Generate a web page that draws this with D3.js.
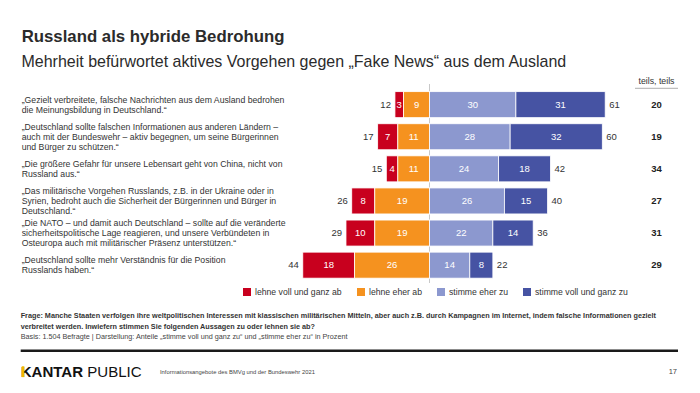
<!DOCTYPE html>
<html><head><meta charset="utf-8">
<script src="https://cdn.jsdelivr.net/npm/d3@7"></script>
<style>body{margin:0;background:#fff}svg{display:block;font-family:"Liberation Sans",Arial,sans-serif}</style>
</head><body>
<svg id="c" width="700" height="393"></svg>
<script>
const statements = [
  ["„Gezielt verbreitete, falsche Nachrichten aus dem Ausland bedrohen", "die Meinungsbildung in Deutschland.“"],
  ["„Deutschland sollte falschen Informationen aus anderen Ländern –", "auch mit der Bundeswehr – aktiv begegnen, um seine Bürgerinnen", "und Bürger zu schützen.“"],
  ["„Die größere Gefahr für unsere Lebensart geht von China, nicht von", "Russland aus.“"],
  ["„Das militärische Vorgehen Russlands, z.B. in der Ukraine oder in", "Syrien, bedroht auch die Sicherheit der Bürgerinnen und Bürger in", "Deutschland.“"],
  ["„Die NATO – und damit auch Deutschland – sollte auf die veränderte", "sicherheitspolitische Lage reagieren, und unsere Verbündeten in", "Osteuropa auch mit militärischer Präsenz unterstützen.“"],
  ["„Deutschland sollte mehr Verständnis für die Position", "Russlands haben.“"]
];
const seriesNames = ["lehne voll und ganz ab", "lehne eher ab", "stimme eher zu", "stimme voll und ganz zu"];
const lehneVoll  = [3, 7, 4, 8, 10, 18];
const lehneEher  = [9, 11, 11, 19, 19, 26];
const stimmeEher = [30, 28, 24, 26, 22, 14];
const stimmeVoll = [31, 32, 18, 15, 14, 8];
const totalAblehnung = [12, 17, 15, 26, 29, 44];
const totalZustimmung = [61, 60, 42, 40, 36, 22];
const teilsTeils = [20, 19, 34, 27, 31, 29];
const colors = ["#c8001e", "#f5921f", "#8c98cf", "#4653a3"];

const title = "Russland als hybride Bedrohung";
const subtitle = "Mehrheit befürwortet aktives Vorgehen gegen „Fake News“ aus dem Ausland";
const frage1 = "Frage: Manche Staaten verfolgen ihre weltpolitischen Interessen mit klassischen militärischen Mitteln, aber auch z.B. durch Kampagnen im Internet, indem falsche Informationen gezielt";
const frage2 = "verbreitet werden. Inwiefern stimmen Sie folgenden Aussagen zu oder lehnen sie ab?";
const basis = "Basis: 1.504 Befragte | Darstellung: Anteile „stimme voll und ganz zu“ und „stimme eher zu“ in Prozent";
const footerText = "Informationsangebote des BMVg und der Bundeswehr 2021";
const pageNo = "17";

const svg = d3.select("#c");
const txt = "#333";

function fit(sel, w) {
  const cur = parseFloat(sel.attr("font-size"));
  const m = sel.node().getComputedTextLength();
  sel.attr("font-size", (cur * w / m).toFixed(2));
  return sel;
}

// Titles
fit(svg.append("text").attr("x", 21.7).attr("y", 41.7).attr("font-size", 17).attr("font-weight", "bold").attr("fill", "#2b2b2b").text(title), 263);
fit(svg.append("text").attr("x", 21.5).attr("y", 66.7).attr("font-size", 15).attr("fill", "#2b2b2b").text(subtitle), 545);

// scales
const x = d3.scaleLinear().domain([-50, 65]).range([429.5 - 50 * 2.88, 429.5 + 65 * 2.88]);
const idx = d3.range(statements.length);
const y = d3.scaleBand().domain(idx).range([88.6, 281.2]).paddingInner(0.19).paddingOuter(0.095);

// center line
svg.append("line").attr("x1", x(0)).attr("x2", x(0)).attr("y1", 84).attr("y2", 283).attr("stroke", "#c8c8c8").attr("stroke-width", 1);

// stacked diverging segments
const rows = idx.map(i => {
  const segs = [];
  segs.push({s: 0, v: lehneVoll[i], x0: -(lehneVoll[i] + lehneEher[i]), x1: -lehneEher[i]});
  segs.push({s: 1, v: lehneEher[i], x0: -lehneEher[i], x1: 0});
  segs.push({s: 2, v: stimmeEher[i], x0: 0, x1: stimmeEher[i]});
  segs.push({s: 3, v: stimmeVoll[i], x0: stimmeEher[i], x1: stimmeEher[i] + stimmeVoll[i]});
  return {i, segs};
});

const g = svg.append("g");
const rg = g.selectAll("g.row").data(rows).join("g").attr("class", "row");
rg.selectAll("rect").data(d => d.segs.map(s => ({...s, i: d.i}))).join("rect")
  .attr("x", d => x(d.x0)).attr("width", d => x(d.x1) - x(d.x0))
  .attr("y", d => y(d.i)).attr("height", y.bandwidth())
  .attr("fill", d => colors[d.s]).attr("stroke", "#fff").attr("stroke-width", 0.8);
rg.selectAll("text.v").data(d => d.segs.map(s => ({...s, i: d.i}))).join("text").attr("class", "v")
  .attr("x", d => (x(d.x0) + x(d.x1)) / 2).attr("y", d => y(d.i) + y.bandwidth() / 2).attr("dy", "0.35em")
  .attr("text-anchor", "middle").attr("font-size", 9.5).attr("fill", "#fff").text(d => d.v);

// totals
idx.forEach(i => {
  const cy = y(i) + y.bandwidth() / 2;
  svg.append("text").attr("x", x(-(lehneVoll[i] + lehneEher[i])) - 4).attr("y", cy).attr("dy", "0.35em")
    .attr("text-anchor", "end").attr("font-size", 9.5).attr("fill", txt).text(totalAblehnung[i]);
  svg.append("text").attr("x", x(stimmeEher[i] + stimmeVoll[i]) + 4).attr("y", cy).attr("dy", "0.35em")
    .attr("font-size", 9.5).attr("fill", txt).text(totalZustimmung[i]);
  svg.append("text").attr("x", 656.5).attr("y", cy).attr("dy", "0.35em").attr("text-anchor", "middle")
    .attr("font-size", 9.5).attr("font-weight", "bold").attr("fill", "#222").text(teilsTeils[i]);
});

// teils, teils header
const th = svg.append("text").attr("x", 656.5).attr("y", 81).attr("dy", "0.35em").attr("text-anchor", "middle")
  .attr("font-size", 8).attr("fill", txt).text("teils, teils");
fit(th, 36);
svg.append("line").attr("x1", 635).attr("x2", 678).attr("y1", 88.3).attr("y2", 88.3).attr("stroke", "#999").attr("stroke-width", 0.8);

// statement labels
const lh = 9.8;
let labelSize = null;
idx.forEach(i => {
  const cy = y(i) + y.bandwidth() / 2;
  const lines = statements[i];
  lines.forEach((ln, k) => {
    const t = svg.append("text").attr("x", 21.7).attr("y", cy + (k - (lines.length - 1) / 2) * lh)
      .attr("dy", "0.35em").attr("font-size", labelSize || 9).attr("fill", txt).text(ln);
    if (labelSize === null) { fit(t, 263); labelSize = parseFloat(t.attr("font-size")); }
  });
});

// legend
const legX = [243, 357, 437, 523];
const legG = svg.append("g");
seriesNames.forEach((n, k) => {
  legG.append("rect").attr("x", legX[k]).attr("y", 288).attr("width", 8).attr("height", 8).attr("fill", colors[k]);
  const t = legG.append("text").attr("x", legX[k] + 12).attr("y", 292.3).attr("dy", "0.35em")
    .attr("font-size", 9.5).attr("fill", txt).text(n);
  if (k === 0) fit(t, 86.7);
});
const legSize = legG.select("text").attr("font-size");
legG.selectAll("text").attr("font-size", legSize);

// footnotes
const f1 = svg.append("text").attr("x", 20.7).attr("y", 315.5).attr("dy", "0.35em").attr("font-size", 7.5).attr("font-weight", "bold").attr("fill", txt).text(frage1);
fit(f1, 636);
svg.append("text").attr("x", 20.7).attr("y", 326.5).attr("dy", "0.35em").attr("font-size", f1.attr("font-size")).attr("font-weight", "bold").attr("fill", txt).text(frage2);
fit(svg.append("text").attr("x", 20.7).attr("y", 336.5).attr("dy", "0.35em").attr("font-size", 7.5).attr("fill", "#444").text(basis), 327);

svg.append("line").attr("x1", 20.7).attr("x2", 678).attr("y1", 350.7).attr("y2", 350.7).attr("stroke", "#1a1a1a").attr("stroke-width", 2.5);

// footer
const kt = svg.append("text").attr("x", 20.7).attr("y", 371.7).attr("dy", "0.36em").attr("font-size", 14).attr("fill", "#111");
kt.append("tspan").attr("font-weight", "bold").text("KANTAR");
kt.append("tspan").text(" PUBLIC");
fit(kt, 121);
const ks = parseFloat(kt.attr("font-size"));
svg.append("rect").attr("x", 20.7 + ks * 0.07).attr("y", 371.7 - ks * 0.36).attr("width", ks * 0.17).attr("height", ks * 0.72).attr("fill", "#f2b800");
fit(svg.append("text").attr("x", 160).attr("y", 371.7).attr("dy", "0.35em").attr("font-size", 5.5).attr("fill", "#444").text(footerText), 155);
svg.append("text").attr("x", 677).attr("y", 371.7).attr("dy", "0.35em").attr("text-anchor", "end").attr("font-size", 7.5).attr("fill", "#444").text(pageNo);
</script>
</body></html>
